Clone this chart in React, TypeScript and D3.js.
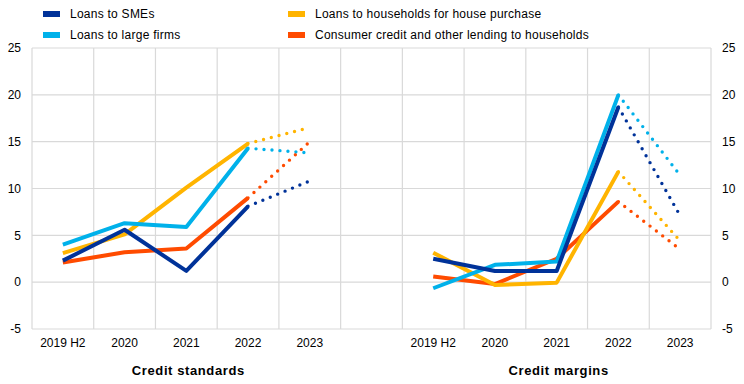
import React from "react";
import * as d3 from "d3";

const years = ["2019 H2", "2020", "2021", "2022", "2023"];
const panels = ["Credit standards", "Credit margins"];
const yTicks = [-5, 0, 5, 10, 15, 20, 25];

const seriesNames = [
  "Loans to SMEs",
  "Loans to large firms",
  "Loans to households for house purchase",
  "Consumer credit and other lending to households",
];
const seriesColors = ["#003299", "#00B1EA", "#FFB400", "#FF4B00"];

// Credit standards
const stdSMEs = [2.3, 5.6, 1.2, 8.1, 10.8];
const stdLarge = [4.0, 6.3, 5.9, 14.3, 13.8];
const stdHouse = [3.1, 5.1, 10.1, 14.8, 16.5];
const stdConsumer = [2.1, 3.2, 3.6, 9.0, 15.0];

// Credit margins
const marSMEs = [2.5, 1.2, 1.2, 18.7, 7.1];
const marLarge = [-0.65, 1.85, 2.2, 20.0, 11.4];
const marHouse = [3.15, -0.3, -0.05, 11.8, 4.4];
const marConsumer = [0.6, -0.2, 2.5, 8.6, 3.5];

const panelData = [
  [stdSMEs, stdLarge, stdHouse, stdConsumer],
  [marSMEs, marLarge, marHouse, marConsumer],
];

const W = 744;
const H = 384;
const font = "'Liberation Sans', Arial, sans-serif";

export default function App() {
  const keys = [
    ...years.map((y) => "L" + y),
    "gap",
    ...years.map((y) => "R" + y),
  ];
  const x = d3.scaleBand<string>().domain(keys).range([32, 711]).padding(0);
  const y = d3.scaleLinear().domain([-5, 25]).range([329, 48]);
  const bw = x.bandwidth();
  const cx = (k: string) => (x(k) as number) + bw / 2;
  const gridX = keys.map((k) => x(k) as number).concat([711]);

  const lines: React.ReactNode[] = [];
  const order = [3, 2, 1, 0];
  panelData.forEach((series, p) => {
    const prefix = p === 0 ? "L" : "R";
    order.forEach((si) => {
      const vals = series[si];
      const pts: [number, number][] = vals.map((v, i) => [cx(prefix + years[i]), y(v)]);
      const line = d3.line();
      lines.push(
        <path
          key={`s${p}-${si}`}
          d={line(pts.slice(0, 4)) as string}
          fill="none"
          stroke={seriesColors[si]}
          strokeWidth={4}
          strokeLinejoin="round"
          strokeLinecap="butt"
        />
      );
      lines.push(
        <path
          key={`d${p}-${si}`}
          d={line(pts.slice(3, 5)) as string}
          fill="none"
          stroke={seriesColors[si]}
          strokeWidth={3.4}
          strokeLinecap="round"
          strokeDasharray="0 8"
        />
      );
    });
  });

  return (
    <svg
      width={W}
      height={H}
      style={{ position: "absolute", left: 0, top: 0, background: "#fff" }}
      fontFamily={font}
    >
      {yTicks.map((t) => (
        <line key={"gy" + t} x1={32} x2={711} y1={y(t)} y2={y(t)} stroke="#d9d9d9" strokeWidth={1.2} />
      ))}
      {gridX.map((gx, i) => (
        <line key={"gx" + i} x1={gx} x2={gx} y1={48} y2={329} stroke="#d9d9d9" strokeWidth={1.2} />
      ))}
      {yTicks.map((t) => (
        <text key={"yl" + t} x={21} y={y(t)} dy="0.35em" textAnchor="end" fontSize={12} fill="#000">
          {t}
        </text>
      ))}
      {yTicks.map((t) => (
        <text key={"yr" + t} x={722} y={y(t)} dy="0.35em" textAnchor="start" fontSize={12} fill="#000">
          {t}
        </text>
      ))}
      {keys
        .filter((k) => k !== "gap")
        .map((k) => (
          <text key={"xl" + k} x={cx(k)} y={347} textAnchor="middle" fontSize={12} fill="#000">
            {k.slice(1)}
          </text>
        ))}
      {panels.map((pt, i) => {
        const first = (i === 0 ? "L" : "R") + years[0];
        const last = (i === 0 ? "L" : "R") + years[4];
        const mid = (cx(first) + cx(last)) / 2;
        return (
          <text
            key={pt}
            x={mid + 2}
            y={375}
            textAnchor="middle"
            fontSize={13}
            fontWeight="bold"
            letterSpacing={0.6}
            fill="#000"
          >
            {pt}
          </text>
        );
      })}
      {lines}
      {seriesNames.map((n, i) => {
        const col = i === 0 || i === 1 ? 0 : 1;
        const row = i === 0 || i === 2 ? 0 : 1;
        const lx = col === 0 ? 43 : 288;
        const ly = row === 0 ? 14 : 35;
        return (
          <g key={n}>
            <rect x={lx} y={ly - 3} width={17} height={6} fill={seriesColors[i]} />
            <text x={lx + 27} y={ly} dy="0.35em" fontSize={12} letterSpacing={0.25} fill="#000">
              {n}
            </text>
          </g>
        );
      })}
    </svg>
  );
}
